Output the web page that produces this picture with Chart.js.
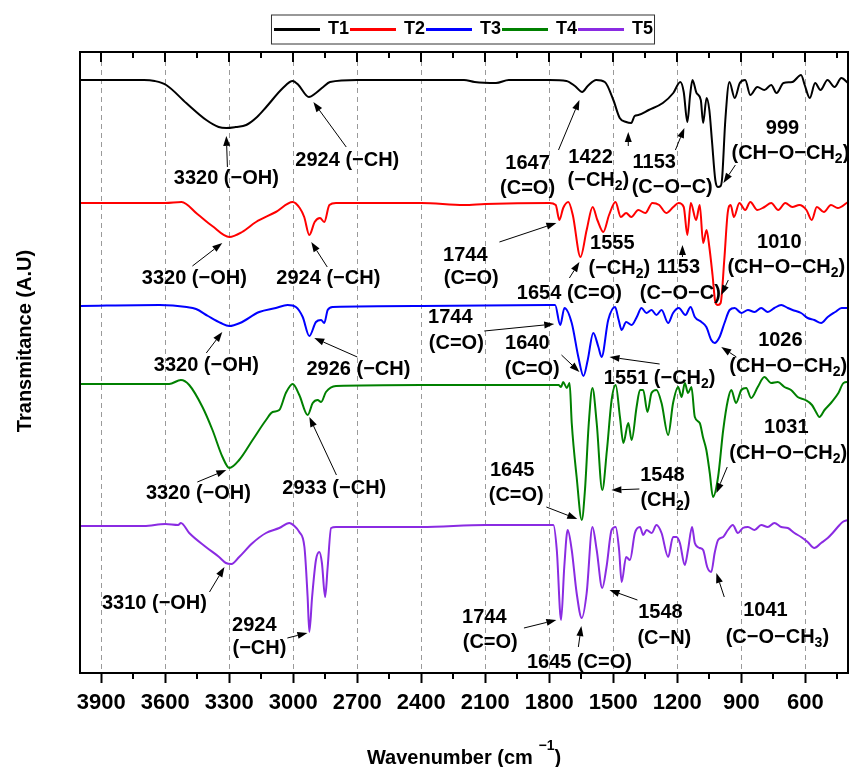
<!DOCTYPE html>
<html>
<head>
<meta charset="utf-8">
<title>FTIR spectra T1-T5</title>
<script src="https://cdn.jsdelivr.net/npm/chart.js@4.4.0/dist/chart.umd.min.js"></script>
<style>
  html, body { margin: 0; padding: 0; background: #fff; }
  #wrap { width: 849px; height: 767px; position: relative; }
</style>
</head>
<body>
<div id="wrap"><canvas id="ftir"></canvas></div>
<script>
// [wavenumber cm-1, transmittance A.U.] - curves are stacked
const t1 = [[4000,59.3],[3700,59.3],[3650,59.2],[3596,58.8],[3502,57.0],[3408,55.3],[3350,54.6],[3314,54.5],[3270,54.6],[3221,54.8],
  [3170,55.6],[3127,56.6],[3049,58.5],[3003,59.2],[2976,58.8],[2927,57.6],[2894,58.0],[2860,58.6],[2828,59.1],[2700,59.3],
  [2400,59.3],[2200,59.3],[2150,59.1],[2050,59.0],[1990,59.3],[1800,59.3],[1720,59.2],[1680,58.7],[1646,58.1],[1620,58.7],
  [1580,59.3],[1540,59.1],[1500,57.3],[1470,55.5],[1440,55.1],[1416,55.0],[1400,55.7],[1383,55.8],[1334,56.3],[1268,57.0],
  [1219,58.0],[1186,59.1],[1170,58.1],[1153,55.1],[1140,57.8],[1129,59.3],[1110,58.0],[1090,57.3],[1079,55.0],[1063,57.5],
  [1050,56.3],[1038,53.3],[1022,49.3],[1010,48.6],[997,48.7],[990,49.5],[975,55.3],[956,59.1],[931,57.5],[907,59.0],
  [882,59.3],[858,57.8],[825,58.6],[792,58.3],[760,58.8],[735,58.0],[702,59.0],[661,59.1],[620,59.8],[603,58.8],
  [579,57.5],[554,59.0],[529,58.3],[496,59.3],[463,58.6],[431,59.5],[400,59.0]];

const t2 = [[4000,47.0],[3600,47.0],[3524,47.1],[3450,45.9],[3380,44.7],[3300,43.6],[3240,44.1],[3175,45.1],[3082,46.1],[3003,47.1],
  [2970,46.5],[2949,45.6],[2925,43.8],[2900,45.1],[2875,45.5],[2855,45.1],[2831,46.8],[2800,47.0],[2400,47.0],[2200,46.8],
  [2100,46.9],[1800,47.0],[1770,46.8],[1753,45.3],[1735,46.5],[1711,47.1],[1690,45.8],[1654,41.6],[1625,44.3],[1597,46.6],
  [1575,45.3],[1547,44.1],[1520,45.8],[1490,47.1],[1465,45.6],[1440,46.0],[1416,45.6],[1383,46.3],[1350,46.0],[1317,47.0],
  [1285,46.8],[1252,46.0],[1219,46.6],[1194,47.0],[1170,46.6],[1153,43.8],[1137,47.0],[1112,45.3],[1095,46.8],[1079,43.0],
  [1063,44.3],[1050,42.6],[1035,39.8],[1022,37.1],[1010,36.8],[997,37.0],[980,41.3],[964,46.0],[950,46.8],[935,45.6],
  [909,47.0],[882,46.3],[858,47.1],[825,46.3],[792,46.6],[760,47.0],[727,46.3],[694,47.0],[661,46.6],[628,46.8],
  [595,46.3],[570,45.3],[546,46.6],[513,46.1],[480,46.8],[448,46.5],[400,47.1]];

const t3 = [[4000,36.7],[3627,36.8],[3500,36.6],[3456,36.4],[3400,35.7],[3340,35.0],[3300,34.7],[3250,35.0],[3160,36.1],[3082,36.5],
  [3027,36.8],[2988,36.6],[2956,35.6],[2925,33.7],[2894,35.1],[2870,35.3],[2855,35.0],[2839,36.3],[2815,36.6],[2400,36.7],
  [1800,36.8],[1773,36.8],[1749,34.8],[1729,36.5],[1695,35.0],[1664,31.6],[1640,29.7],[1620,31.3],[1594,34.0],[1570,32.6],
  [1555,31.6],[1524,35.3],[1492,36.6],[1475,35.3],[1461,34.3],[1440,35.1],[1414,34.8],[1390,35.6],[1368,36.5],[1345,36.0],
  [1321,36.3],[1298,35.8],[1274,36.3],[1243,35.0],[1220,36.0],[1193,36.5],[1162,35.8],[1138,36.6],[1118,35.6],[1087,35.1],
  [1064,34.6],[1041,33.3],[1025,33.0],[1002,33.6],[979,35.0],[955,36.3],[931,36.5],[900,36.0],[869,36.3],[838,36.1],
  [807,36.5],[776,36.1],[745,36.5],[713,36.8],[682,36.5],[660,36.3],[620,36.0],[589,35.5],[558,35.3],[526,35.0],
  [495,35.6],[460,36.1],[430,36.5],[400,36.5]];

const t4 = [[4000,28.9],[3600,28.9],[3582,28.9],[3527,29.3],[3488,28.8],[3426,26.6],[3379,24.3],[3332,21.6],[3300,20.5],[3254,21.3],
  [3191,23.3],[3128,25.3],[3097,26.1],[3066,26.3],[3035,28.0],[3003,28.9],[2972,27.8],[2933,25.8],[2909,27.0],[2886,27.3],
  [2870,27.1],[2847,28.1],[2800,28.7],[2400,28.8],[2100,28.8],[1800,28.8],[1757,28.8],[1745,28.6],[1735,29.1],[1718,28.5],
  [1705,29.0],[1695,25.0],[1672,19.6],[1648,15.3],[1633,18.3],[1615,25.0],[1598,28.5],[1578,25.0],[1552,18.3],[1530,22.3],
  [1508,27.3],[1489,28.8],[1469,25.6],[1453,23.0],[1430,25.0],[1414,23.3],[1391,26.6],[1375,28.3],[1360,28.3],[1340,26.1],
  [1321,28.0],[1298,28.3],[1274,27.0],[1243,23.8],[1220,27.0],[1196,28.6],[1180,27.6],[1165,29.0],[1150,28.0],[1134,28.6],
  [1118,25.6],[1095,25.0],[1080,23.6],[1064,22.3],[1048,20.0],[1033,17.6],[1009,19.6],[985,24.3],[963,27.3],[947,28.3],
  [925,27.0],[900,28.3],[877,28.5],[854,27.5],[823,28.6],[792,29.6],[760,29.0],[729,29.1],[698,28.6],[667,28.3],
  [636,27.6],[600,27.3],[569,26.8],[550,26.1],[534,25.6],[510,26.3],[476,27.1],[445,28.0],[421,29.0],[400,29.1]];

const t5 = [[4000,14.7],[3700,14.7],[3600,14.9],[3540,14.8],[3527,15.0],[3488,14.0],[3410,12.6],[3348,11.6],[3316,11.0],[3290,10.9],
  [3254,11.6],[3191,13.0],[3128,14.0],[3066,14.5],[3019,15.0],[2995,14.7],[2972,14.1],[2948,12.6],[2933,7.6],[2925,4.1],
  [2912,7.6],[2894,11.3],[2878,12.1],[2866,11.0],[2851,7.6],[2839,10.6],[2823,14.5],[2800,14.6],[2400,14.6],[2100,14.8],
  [1800,14.8],[1781,14.8],[1765,12.3],[1745,5.3],[1730,10.6],[1714,14.3],[1695,12.3],[1672,8.0],[1648,5.5],[1625,8.0],
  [1598,14.6],[1578,12.3],[1552,8.5],[1532,10.6],[1508,14.3],[1489,14.6],[1473,12.3],[1461,9.1],[1440,11.6],[1422,11.3],
  [1399,14.0],[1375,14.6],[1360,13.8],[1344,14.3],[1320,14.0],[1298,14.8],[1274,14.0],[1243,11.6],[1220,13.6],[1204,13.6],
  [1188,13.0],[1165,10.8],[1150,12.3],[1131,14.6],[1118,13.0],[1095,12.5],[1079,12.3],[1060,10.6],[1041,10.1],[1025,12.0],
  [1009,13.3],[985,13.6],[963,14.3],[940,14.8],[916,14.0],[893,14.5],[869,14.6],[838,14.3],[807,14.8],[776,14.6],
  [745,15.0],[713,14.6],[682,14.5],[651,14.0],[620,13.6],[589,13.1],[558,12.5],[526,13.0],[495,13.5],[472,14.0],
  [448,14.6],[425,15.1],[400,15.3]];

const seriesNames = ['T1', 'T2', 'T3', 'T4', 'T5'];
const seriesColors = ['#000000', '#ff0000', '#0000ff', '#008000', '#8a2be2'];
const majorTicks = [3900, 3600, 3300, 3000, 2700, 2400, 2100, 1800, 1500, 1200, 900, 600];
const minorTicks = [3750, 3450, 3150, 2850, 2550, 2250, 1950, 1650, 1350, 1050, 750, 450];

// peak labels: [wavenumber, transmittance, text]  ("_2" = subscript 2)
const peakLabels = [
  [3314, 49.5, '3320 (−OH)'], [2747, 51.3, '2924 (−CH)'], [1902, 51.0, '1647'], [1902, 48.5, '(C=O)'],
  [1607, 51.6, '1422'], [1570, 49.3, '(−CH_2)'], [1308, 51.1, '1153'], [1224, 48.6, '(C−O−C)'],
  [707, 54.5, '999'], [670, 52.0, '(CH−O−CH_2)'],
  [3464, 39.5, '3320 (−OH)'], [2836, 39.5, '2924 (−CH)'], [2194, 41.8, '1744'], [2166, 39.5, '(C=O)'],
  [1706, 38.0, '1654 (C=O)'], [1505, 43.0, '1555'], [1472, 40.5, '(−CH_2)'], [1195, 40.6, '1153'],
  [1186, 38.0, '(C−O−C)'], [722, 43.1, '1010'], [689, 40.6, '(CH−O−CH_2)'],
  [3408, 30.8, '3320 (−OH)'], [2695, 30.4, '2926 (−CH)'], [2264, 35.6, '1744'], [2236, 33.0, '(C=O)'],
  [1903, 33.0, '1640'], [1880, 30.4, '(C=O)'], [1283, 29.5, '1551 (−CH_2)'], [717, 33.3, '1026'],
  [680, 30.7, '(CH−O−CH_2)'],
  [3445, 18.0, '3320 (−OH)'], [2808, 18.5, '2933 (−CH)'], [1974, 20.3, '1645'], [1955, 17.8, '(C=O)'],
  [1270, 19.8, '1548'], [1256, 17.3, '(CH_2)'], [689, 24.6, '1031'], [680, 22.0, '(CH−O−CH_2)'],
  [3651, 7.0, '3310 (−OH)'], [3183, 4.8, '2924'], [3159, 2.5, '(−CH)'], [2105, 5.6, '1744'],
  [2077, 3.1, '(C=O)'], [1659, 1.1, '1645 (C=O)'], [1279, 6.1, '1548'], [1261, 3.5, '(C−N)'],
  [787, 6.3, '1041'], [731, 3.6, '(C−O−CH_3)']
];

// arrows: [from wavenumber, from T, to wavenumber, to T]
const peakArrows = [
  [3309, 50.6, 3314, 53.7], [2752, 52.6, 2906, 57.1], [1757, 52.3, 1659, 57.3], [1430, 52.7, 1430, 54.1],
  [1209, 52.3, 1167, 54.5], [928, 50.8, 984, 49.0],
  [3473, 40.7, 3333, 43.0], [2841, 40.6, 2916, 43.1], [2034, 43.1, 1767, 45.0], [1706, 39.5, 1659, 41.1],
  [1176, 41.6, 1176, 42.8], [961, 39.3, 994, 37.8],
  [3408, 32.0, 3333, 34.1], [2700, 31.6, 2902, 33.5], [2105, 34.2, 1777, 34.9], [1743, 31.8, 1659, 30.1],
  [1283, 30.9, 1518, 31.6], [923, 31.6, 994, 32.6],
  [3450, 19.1, 3314, 20.3], [2798, 19.8, 2925, 25.6], [1814, 16.6, 1669, 15.4], [1378, 18.4, 1509, 18.3],
  [966, 20.6, 1017, 18.0],
  [3393, 8.1, 3323, 10.6], [3028, 3.5, 2934, 4.0], [1919, 4.5, 1767, 5.3], [1664, 2.6, 1650, 4.7],
  [1387, 7.3, 1518, 8.3], [980, 7.6, 1017, 10.0]
];

const fontFamily = '"Liberation Sans", Arial, Helvetica, sans-serif';
Chart.defaults.font.family = fontFamily;
Chart.defaults.color = '#000';

// text with "_n" subscripts, centred on (cx, cy)
function drawRich(ctx, text, cx, cy, size) {
  const parts = text.split(/_(\d)/);
  const subSize = Math.round(size * 0.68);
  let total = 0;
  parts.forEach((p, i) => {
    ctx.font = 'bold ' + (i % 2 ? subSize : size) + 'px ' + fontFamily;
    total += ctx.measureText(p).width;
  });
  let x = cx - total / 2;
  ctx.textAlign = 'left';
  ctx.textBaseline = 'middle';
  parts.forEach((p, i) => {
    const sub = i % 2 === 1;
    ctx.font = 'bold ' + (sub ? subSize : size) + 'px ' + fontFamily;
    ctx.fillText(p, x, sub ? cy + size * 0.32 : cy);
    x += ctx.measureText(p).width;
  });
}

function drawArrow(ctx, x1, y1, x2, y2) {
  const ang = Math.atan2(y2 - y1, x2 - x1);
  const head = Math.min(10, Math.hypot(x2 - x1, y2 - y1));
  const bx = x2 - head * Math.cos(ang);
  const by = y2 - head * Math.sin(ang);
  ctx.lineWidth = 1;
  ctx.beginPath();
  ctx.moveTo(x1, y1);
  ctx.lineTo(bx, by);
  ctx.stroke();
  ctx.beginPath();
  ctx.moveTo(x2, y2);
  ctx.lineTo(bx + 3.5 * Math.sin(ang), by - 3.5 * Math.cos(ang));
  ctx.lineTo(bx - 3.5 * Math.sin(ang), by + 3.5 * Math.cos(ang));
  ctx.closePath();
  ctx.fill();
}

// frame, extra ticks, peak labels, legend box and axis titles
const ftirDecor = {
  id: 'ftirDecor',
  afterDraw(chart) {
    const ctx = chart.ctx;
    const area = chart.chartArea;
    const xs = chart.scales.x;
    const ys = chart.scales.y;
    ctx.save();
    ctx.strokeStyle = '#000';
    ctx.fillStyle = '#000';

    // ticks: top ones point inward, bottom minor ones outward
    ctx.lineWidth = 2;
    ctx.beginPath();
    majorTicks.forEach(v => {
      const px = Math.round(xs.getPixelForValue(v));
      ctx.moveTo(px, area.top); ctx.lineTo(px, area.top + 10);
    });
    minorTicks.forEach(v => {
      const px = Math.round(xs.getPixelForValue(v));
      ctx.moveTo(px, area.top); ctx.lineTo(px, area.top + 6);
      ctx.moveTo(px, area.bottom); ctx.lineTo(px, area.bottom + 6);
    });
    ctx.stroke();
    ctx.strokeRect(area.left, area.top, area.right - area.left, area.bottom - area.top);

    peakArrows.forEach(a => {
      drawArrow(ctx, xs.getPixelForValue(a[0]), ys.getPixelForValue(a[1]),
        xs.getPixelForValue(a[2]), ys.getPixelForValue(a[3]));
    });
    peakLabels.forEach(l => {
      drawRich(ctx, l[2], xs.getPixelForValue(l[0]), ys.getPixelForValue(l[1]), 20);
    });

    // box round the legend
    const hb = chart.legend.legendHitBoxes;
    if (hb && hb.length) {
      const last = hb[hb.length - 1];
      ctx.lineWidth = 1;
      ctx.strokeStyle = '#333';
      ctx.strokeRect(hb[0].left - 3.5, hb[0].top - 5.5, last.left + last.width - hb[0].left + 5, hb[0].height + 11);
    }

    // axis titles
    ctx.textBaseline = 'alphabetic';
    ctx.textAlign = 'left';
    ctx.font = 'bold 20px ' + fontFamily;
    const main = 'Wavenumber (cm ';
    const wMain = ctx.measureText(main).width;
    const wClose = ctx.measureText(')').width;
    ctx.font = 'bold 14px ' + fontFamily;
    const wSup = ctx.measureText('−1').width;
    let tx = (area.left + area.right) / 2 - (wMain + wSup + wClose) / 2;
    const ty = chart.height - 3;
    ctx.font = 'bold 20px ' + fontFamily;
    ctx.fillText(main, tx, ty);
    ctx.font = 'bold 14px ' + fontFamily;
    ctx.fillText('−1', tx + wMain, ty - 14);
    ctx.font = 'bold 20px ' + fontFamily;
    ctx.fillText(')', tx + wMain + wSup, ty);

    ctx.translate(25, 341);
    ctx.rotate(-Math.PI / 2);
    ctx.textAlign = 'center';
    ctx.textBaseline = 'middle';
    ctx.fillText('Transmitance (A.U)', 0, 0);
    ctx.restore();
  }
};

const spectra = [t1, t2, t3, t4, t5];

new Chart(document.getElementById('ftir'), {
  type: 'line',
  data: {
    datasets: spectra.map((s, i) => ({
      label: seriesNames[i],
      data: s.map(p => ({ x: p[0], y: p[1] })),
      borderColor: seriesColors[i],
      backgroundColor: seriesColors[i],
      borderWidth: 2,
      pointRadius: 0,
      pointHoverRadius: 0,
      cubicInterpolationMode: 'monotone'
    }))
  },
  options: {
    responsive: true,
    maintainAspectRatio: false,
    animation: false,
    events: [],
    layout: { padding: { top: 18.5, right: 1, bottom: 0, left: 0 } },
    plugins: {
      legend: {
        position: 'top',
        fullSize: false,
        labels: { boxWidth: 44, boxHeight: 1, padding: 2, color: '#000', font: { size: 18, weight: 'bold' } }
      },
      tooltip: { enabled: false }
    },
    scales: {
      x: {
        type: 'linear',
        min: 400,
        max: 4000,
        reverse: true,
        afterBuildTicks: s => { s.ticks = majorTicks.map(v => ({ value: v })); },
        afterFit: s => { s.height = 94; },
        ticks: {
          autoSkip: false, maxRotation: 0, padding: 7, color: '#000',
          font: { size: 22, weight: 'bold' },
          callback: v => String(v)
        },
        grid: { color: '#9a9a9a', lineWidth: 1, drawTicks: true, tickLength: 10, tickColor: '#000', tickWidth: 2 },
        border: { display: false, dash: [5, 4] }
      },
      xTop: {
        type: 'linear',
        position: 'top',
        min: 400,
        max: 4000,
        reverse: true,
        ticks: { display: false },
        grid: { display: false, drawTicks: false },
        border: { display: false },
        afterFit: s => { s.height = 3.5; }
      },
      y: {
        min: 0,
        max: 62.1,
        ticks: { display: false },
        grid: { display: false, drawTicks: false },
        border: { display: false },
        afterFit: s => { s.width = 80; }
      }
    }
  },
  plugins: [ftirDecor]
});
</script>
</body>
</html>
